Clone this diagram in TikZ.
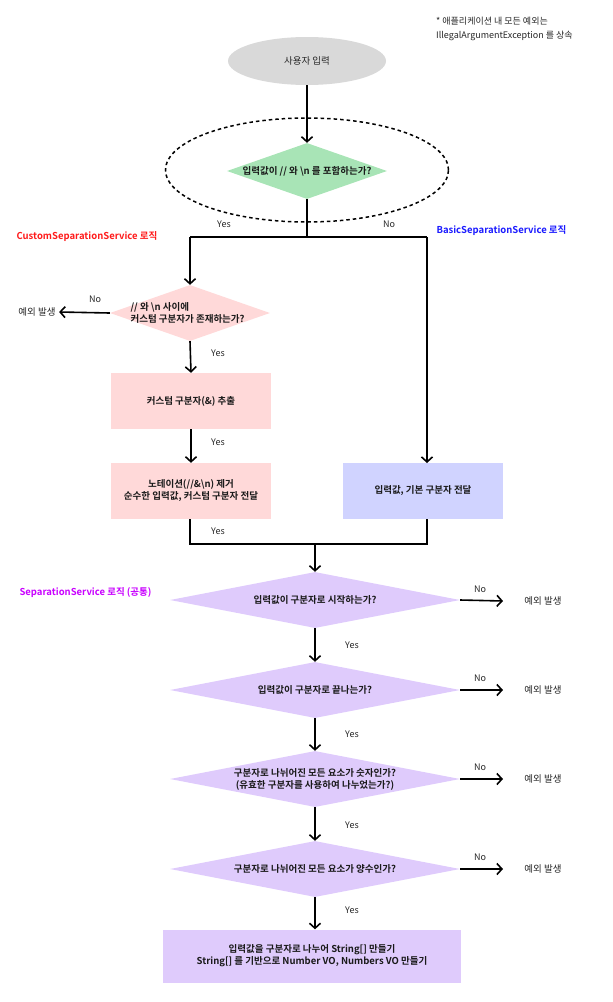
\documentclass[tikz,border=0pt]{standalone}
\usepackage{fontspec}
\setmainfont{Noto Sans CJK KR}[BoldFont={Noto Sans CJK KR Bold}]
\usetikzlibrary{shapes.geometric,arrows.meta}
\definecolor{greyfill}{HTML}{D9D9D9}
\definecolor{greenfill}{HTML}{A8E4B6}
\definecolor{pinkfill}{HTML}{FFD9D9}
\definecolor{bluefill}{HTML}{D0D3FF}
\definecolor{purplefill}{HTML}{DFCBFC}
\definecolor{redlbl}{HTML}{FF1A1A}
\definecolor{bluelbl}{HTML}{1A1AFF}
\definecolor{purplelbl}{HTML}{C800FF}
\tikzset{
  base/.style={font=\fontsize{9.5}{11}\selectfont, text=black!85},
  bt/.style={base, font=\fontsize{9.5}{12}\selectfont\bfseries, text=black!90, align=center},
  dia/.style={diamond, inner sep=0pt, draw=none},
  boxnode/.style={rectangle, draw=none, minimum width=160pt, minimum height=56pt, bt},
  conn/.style={line width=1.6pt, black},
  arr/.style={conn, -{Straight Barb[length=5pt,width=11pt,line width=1.6pt]}},
  lbl/.style={base, font=\fontsize{9}{10}\selectfont},
  svc/.style={font=\fontsize{9.5}{11}\selectfont\bfseries, anchor=west},
}
\begin{document}
\begin{tikzpicture}[x=1pt,y=-1pt]
\useasboundingbox (0,0) rectangle (613,1002);

% note
\node[base, anchor=north west, align=left, font=\fontsize{9}{14}\selectfont, inner sep=0pt] (note) at (436,17)
  {* 애플리케이션 내 모든 예외는\\IllegalArgumentException 를 상속};

% start
\node[ellipse, fill=greyfill, minimum width=158pt, minimum height=48pt, base] (start) at (307,61) {사용자 입력};

% dashed group
\node[ellipse, draw, dashed, dash pattern=on 3.5pt off 3pt, line width=1.5pt, minimum width=283pt, minimum height=104pt] (grp) at (307,170) {};

% green diamond
\node[dia, fill=greenfill, minimum width=160pt, minimum height=56pt] (d0) at (307,171) {};
\node[bt] (d0t) at (d0) {입력값이 // 와 \textbackslash n 를 포함하는가?};

\draw[arr] (start.south) -- (d0.north);

% split
\coordinate (split) at (307,237);
\coordinate (sl) at (190,237);
\coordinate (sr) at (427,237);
\draw[conn] (d0.south) -- (split);
\draw[conn] (sl) -- (sr);
\node[lbl] (yes0) at (224,224) {Yes};
\node[lbl] (no0) at (389,224) {No};

% service labels
\node[svc, text=redlbl] (csvc) at (13,237) {CustomSeparationService 로직};
\node[svc, text=bluelbl] (bsvc) at (433,231) {BasicSeparationService 로직};
\node[svc, text=purplelbl] (ssvc) at (16,593) {SeparationService 로직 (공통)};

% custom diamond
\node[dia, fill=pinkfill, minimum width=160pt, minimum height=56pt] (dc) at (190,313) {};
\node[bt, align=left, anchor=west] (dct) at (127,313) {// 와 \textbackslash n 사이에\\커스텀 구분자가 존재하는가?};
\draw[arr] (sl) -- (dc.north);

\node[base] (exc0) at (37,312) {예외 발생};
\draw[arr] (dc.west) -- (exc0.east);
\node[lbl] (no1) at (95,299) {No};

% pink boxes
\node[boxnode, fill=pinkfill] (p1) at (191,401) {커스텀 구분자(\&) 추출};
\node[boxnode, fill=pinkfill] (p2) at (191,491) {노테이션(//\&\textbackslash n) 제거\\순수한 입력값, 커스텀 구분자 전달};
\draw[arr] (dc.south) -- (p1.north);
\node[lbl] (yes1) at (218,353) {Yes};
\draw[arr] (p1.south) -- (p2.north);
\node[lbl] (yes2) at (218,442) {Yes};

% blue box
\node[boxnode, fill=bluefill] (b1) at (423,491) {입력값, 기본 구분자 전달};
\draw[arr] (sr) -- (427,463);

% merge
\coordinate (ml) at (190,544);
\coordinate (mr) at (427,544);
\coordinate (mm) at (315,544);
\draw[conn] (190,519) -- (ml) -- (mr) -- (427,519);
\node[lbl] (yes3) at (218,531) {Yes};

% common diamonds
\node[dia, fill=purplefill, minimum width=290pt, minimum height=56pt] (s1) at (315,600) {};
\node[bt] (s1t) at (s1) {입력값이 구분자로 시작하는가?};
\node[dia, fill=purplefill, minimum width=290pt, minimum height=56pt] (s2) at (315,690) {};
\node[bt] (s2t) at (s2) {입력값이 구분자로 끝나는가?};
\node[dia, fill=purplefill, minimum width=290pt, minimum height=56pt] (s3) at (315,779) {};
\node[bt] (s3t) at (s3) {구분자로 나뉘어진 모든 요소가 숫자인가?\\(유효한 구분자를 사용하여 나누었는가?)};
\node[dia, fill=purplefill, minimum width=290pt, minimum height=56pt] (s4) at (315,869) {};
\node[bt] (s4t) at (s4) {구분자로 나뉘어진 모든 요소가 양수인가?};

\node[rectangle, fill=purplefill, minimum width=298pt, minimum height=53pt, bt] (fin) at (312,956)
  {입력값을 구분자로 나누어 String[] 만들기\\String[] 를 기반으로 Number VO, Numbers VO 만들기};

\draw[arr] (mm) -- (s1.north);
\draw[arr] (s1.south) -- (s2.north);
\draw[arr] (s2.south) -- (s3.north);
\draw[arr] (s3.south) -- (s4.north);
\draw[arr] (s4.south) -- (s4.south |- fin.north);
\node[lbl] (y4) at (352,645) {Yes};
\node[lbl] (y5) at (352,734) {Yes};
\node[lbl] (y6) at (352,825) {Yes};
\node[lbl] (y7) at (352,910) {Yes};

% exceptions right
\foreach \s/\y in {s1/601,s2/690,s3/779,s4/869}{
  \node[base] (e\s) at (543,\y) {예외 발생};
  \draw[arr] (\s.east) -- (503,\y);
  \node[lbl] (n\s) at (480,\y-12) {No};
}
\end{tikzpicture}
\end{document}
